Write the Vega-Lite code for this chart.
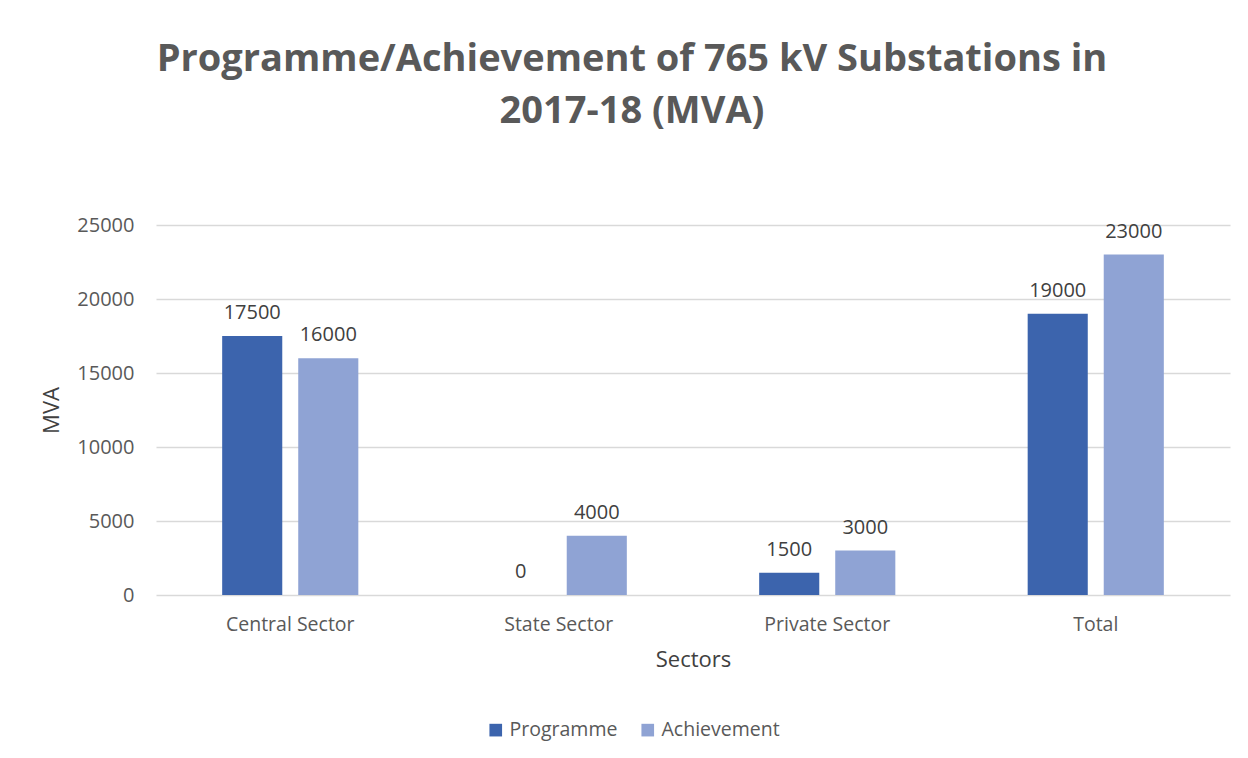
{
  "$schema": "https://vega.github.io/schema/vega-lite/v6.json",
  "width": 1074,
  "height": 370,
  "autosize": {"type": "none"},
  "padding": {"left": 156, "top": 225, "right": 18, "bottom": 163},
  "background": "#ffffff",
  "config": {
    "font": "Open Sans",
    "view": {"stroke": null},
    "axis": {"domain": false, "ticks": false, "tickSize": 0}
  },
  "title": {
    "text": ["Programme/Achievement of 765 kV Substations in", "2017-18 (MVA)"],
    "font": "Open Sans",
    "fontSize": 38,
    "fontWeight": "bold",
    "color": "#595959",
    "anchor": "middle",
    "lineHeight": 52,
    "offset": 84,
    "dx": -61
  },
  "data": {
    "values": [
      {"sector": "Central Sector", "series": "Programme", "mva": 17500},
      {"sector": "Central Sector", "series": "Achievement", "mva": 16000},
      {"sector": "State Sector", "series": "Programme", "mva": 0},
      {"sector": "State Sector", "series": "Achievement", "mva": 4000},
      {"sector": "Private Sector", "series": "Programme", "mva": 1500},
      {"sector": "Private Sector", "series": "Achievement", "mva": 3000},
      {"sector": "Total", "series": "Programme", "mva": 19000},
      {"sector": "Total", "series": "Achievement", "mva": 23000}
    ]
  },
  "encoding": {
    "x": {
      "field": "sector",
      "type": "nominal",
      "sort": ["Central Sector", "State Sector", "Private Sector", "Total"],
      "scale": {"paddingInner": 0, "paddingOuter": 0},
      "axis": {
        "title": "Sectors",
        "labelAngle": 0,
        "labelFont": "Open Sans",
        "labelFontSize": 19.5,
        "labelColor": "#595959",
        "labelPadding": 20,
        "titleFont": "Open Sans",
        "titleFontSize": 22,
        "titleFontWeight": "normal",
        "titleColor": "#404040",
        "titlePadding": 16,
        "grid": false
      }
    },
    "xOffset": {
      "field": "series",
      "type": "nominal",
      "sort": ["Programme", "Achievement"],
      "scale": {"paddingInner": 0.21, "paddingOuter": 0.87}
    },
    "y": {
      "field": "mva",
      "type": "quantitative",
      "scale": {"domain": [0, 25000]},
      "axis": {
        "title": "MVA",
        "values": [0, 5000, 10000, 15000, 20000, 25000],
        "format": "d",
        "labelFont": "Open Sans",
        "labelFontSize": 20,
        "labelColor": "#595959",
        "labelPadding": 22,
        "gridColor": "#d9d9d9",
        "gridWidth": 1.3,
        "titleFont": "Open Sans",
        "titleFontSize": 22,
        "titleFontWeight": "normal",
        "titleColor": "#404040",
        "titlePadding": 13
      }
    }
  },
  "layer": [
    {
      "mark": {"type": "bar"},
      "encoding": {
        "color": {
          "field": "series",
          "type": "nominal",
          "sort": ["Programme", "Achievement"],
          "scale": {"domain": ["Programme", "Achievement"], "range": ["#3c64ad", "#8fa3d4"]},
          "legend": {
            "title": null,
            "orient": "none",
            "direction": "horizontal",
            "legendX": 330,
            "legendY": 495,
            "symbolType": "square",
            "symbolSize": 160,
            "symbolStrokeWidth": 0,
            "labelFont": "Open Sans",
            "labelFontSize": 19.5,
            "labelColor": "#595959",
            "columnPadding": 20,
            "labelOffset": 4
          }
        }
      }
    },
    {
      "mark": {"type": "text", "baseline": "alphabetic", "dy": -17, "fontSize": 20, "font": "Open Sans", "color": "#404040"},
      "encoding": {
        "text": {"field": "mva", "type": "quantitative", "format": "d"}
      }
    }
  ]
}
